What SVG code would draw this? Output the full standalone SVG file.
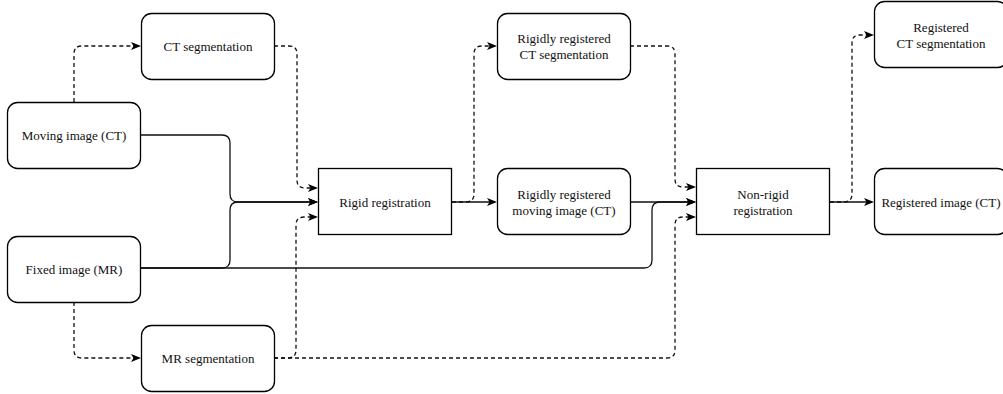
<svg xmlns="http://www.w3.org/2000/svg" width="1003" height="394" viewBox="0 0 1003 394">
  <style>
    .box { fill: #fff; stroke: #000; stroke-width: 1.3; }
    .lbl { font-family: "Liberation Serif", "Times New Roman", Times, "DejaVu Serif", serif; font-size: 13px; fill: #111; text-anchor: middle; }
    .edge { fill: none; stroke: #111; stroke-width: 1.3; marker-end: url(#arrow); }
    .dash { stroke-dasharray: 4 3; }
  </style>
  <defs>
    <marker id="arrow" markerUnits="userSpaceOnUse" markerWidth="12" markerHeight="10" refX="8" refY="4" orient="auto">
      <path d="M0,0 L10,4 L0,8 L2.5,4 Z" fill="#000"/>
    </marker>
  </defs>

  <rect width="1003" height="394" fill="#fff"/>

  <!-- connectors -->
  <g id="connectors">
    <!-- moving image -> CT segmentation -->
    <path class="edge dash" d="M74,102 V54 Q74,46 82,46 H139"/>
    <!-- CT segmentation -> rigid registration -->
    <path class="edge dash" d="M274,46 H289 Q297,46 297,54 V180 Q297,188 305,188 H316"/>
    <!-- moving image -> rigid registration -->
    <path class="edge" d="M141,135 H222 Q230,135 230,143 V194 Q230,202 238,202 H316"/>
    <!-- fixed image -> rigid registration -->
    <path class="edge" d="M141,268 H222 Q230,268 230,260 V210 Q230,202 238,202 H316"/>
    <!-- fixed image -> non-rigid registration -->
    <path class="edge" d="M141,268 H644 Q652,268 652,260 V210 Q652,202 660,202 H694"/>
    <!-- fixed image -> MR segmentation -->
    <path class="edge dash" d="M74,302 V350 Q74,358 82,358 H139"/>
    <!-- MR segmentation -> rigid registration -->
    <path class="edge dash" d="M274,358 H288 Q296,358 296,350 V225 Q296,217 304,217 H316"/>
    <!-- MR segmentation -> non-rigid registration -->
    <path class="edge dash" d="M274,358 H667 Q675,358 675,350 V225 Q675,217 683,217 H694"/>
    <!-- rigid registration -> rigidly registered moving image -->
    <path class="edge" d="M452,202 H495"/>
    <!-- rigid registration -> rigidly registered CT segmentation -->
    <path class="edge dash" d="M452,202 H466 Q474,202 474,194 V54 Q474,46 482,46 H495"/>
    <!-- rigidly registered CT segmentation -> non-rigid registration -->
    <path class="edge dash" d="M630,46 H667 Q675,46 675,54 V179 Q675,187 683,187 H694"/>
    <!-- rigidly registered moving image -> non-rigid registration -->
    <path class="edge" d="M630,202 H694"/>
    <!-- non-rigid registration -> registered image -->
    <path class="edge" d="M830,202 H872"/>
    <!-- non-rigid registration -> registered CT segmentation -->
    <path class="edge dash" d="M830,202 H844 Q852,202 852,194 V43 Q852,35 860,35 H872"/>
  </g>

  <!-- nodes -->
  <g id="moving-image">
    <rect class="box" x="7.5" y="102.5" width="133" height="66" rx="10"/>
    <text class="lbl" x="74" y="139.5">Moving image (CT)</text>
  </g>
  <g id="ct-segmentation">
    <rect class="box" x="141.5" y="13.5" width="133" height="66" rx="10"/>
    <text class="lbl" x="208" y="50.5">CT segmentation</text>
  </g>
  <g id="fixed-image">
    <rect class="box" x="7.5" y="236.5" width="133" height="66" rx="10"/>
    <text class="lbl" x="74" y="273.5">Fixed image (MR)</text>
  </g>
  <g id="mr-segmentation">
    <rect class="box" x="141.5" y="325.5" width="133" height="66" rx="10"/>
    <text class="lbl" x="208" y="362.5">MR segmentation</text>
  </g>
  <g id="rigid-registration">
    <rect class="box" x="318.5" y="168.5" width="133" height="66"/>
    <text class="lbl" x="385" y="206.5">Rigid registration</text>
  </g>
  <g id="rigid-ct-segmentation">
    <rect class="box" x="497.5" y="13.5" width="133" height="66" rx="10"/>
    <text class="lbl" x="564" y="42.5">Rigidly registered</text>
    <text class="lbl" x="564" y="58.5">CT segmentation</text>
  </g>
  <g id="rigid-moving-image">
    <rect class="box" x="497.5" y="168.5" width="133" height="66" rx="10"/>
    <text class="lbl" x="564" y="198.5">Rigidly registered</text>
    <text class="lbl" x="564" y="214.5">moving image (CT)</text>
  </g>
  <g id="non-rigid-registration">
    <rect class="box" x="696.5" y="168.5" width="133" height="66"/>
    <text class="lbl" x="763" y="198.5">Non-rigid</text>
    <text class="lbl" x="763" y="214.5">registration</text>
  </g>
  <g id="registered-ct-segmentation">
    <rect class="box" x="874.5" y="1.5" width="133" height="66" rx="10"/>
    <text class="lbl" x="941" y="31.5">Registered</text>
    <text class="lbl" x="941" y="47.5">CT segmentation</text>
  </g>
  <g id="registered-image">
    <rect class="box" x="874.5" y="168.5" width="133" height="66" rx="10"/>
    <text class="lbl" x="941" y="206.5">Registered image (CT)</text>
  </g>
</svg>
